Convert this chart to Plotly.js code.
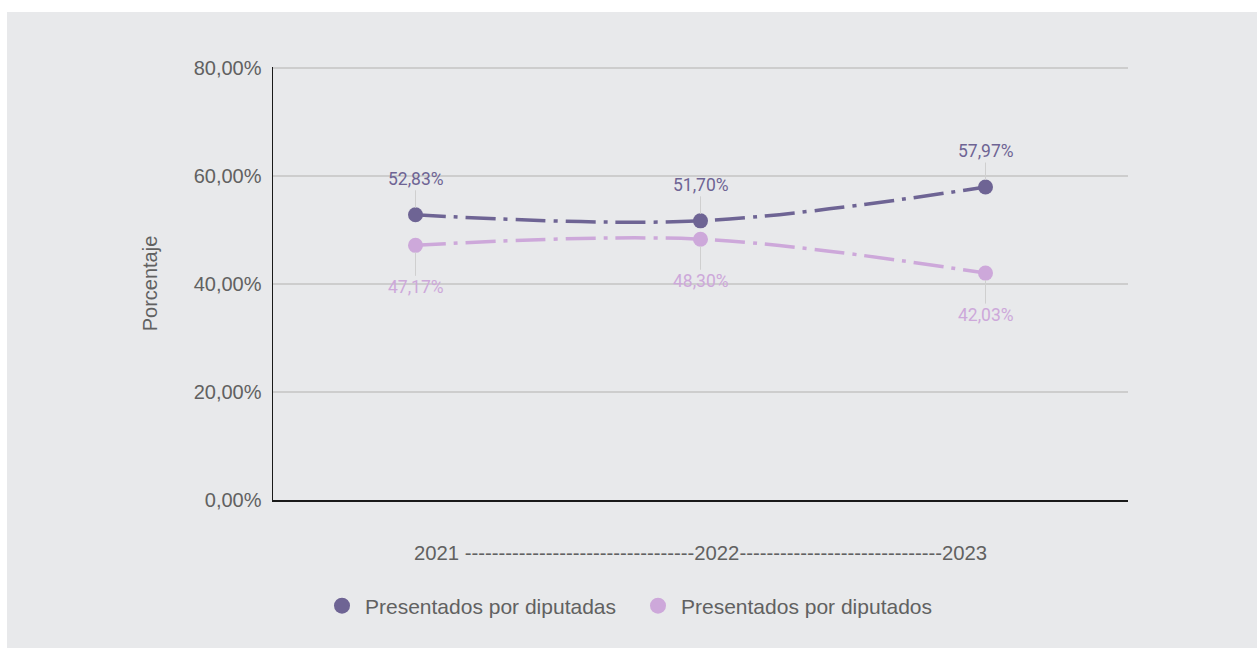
<!DOCTYPE html>
<html>
<head>
<meta charset="utf-8">
<script src="https://cdn.plot.ly/plotly-3.0.1.min.js"></script>
<style>
html,body{margin:0;padding:0;background:#ffffff;}
#chart{position:absolute;left:7px;top:12px;width:1250px;height:636px;}
</style>
</head>
<body>
<div id="chart"></div>
<script>
var years = ["2021", "2022", "2023"];
var diputadas = [52.83, 51.70, 57.97];
var diputados = [47.17, 48.30, 42.03];
var labelsDiputadas = ["52,83%", "51,70%", "57,97%"];
var labelsDiputados = ["47,17%", "48,30%", "42,03%"];
var seriesNames = ["Presentados por diputadas", "Presentados por diputados"];
var yTickVals = [0, 20, 40, 60, 80];
var yTickText = ["0,00%", "20,00%", "40,00%", "60,00%", "80,00%"];
var xTitle = "2021 ----------------------------------2022------------------------------2023";
var yTitle = "Porcentaje";

var cDark = "#6e6494";
var cLight = "#cda8da";
var dashStyle = "30px,8px,4px,8px";

var traces = [
  {x: years, y: diputadas, type: "scatter", mode: "lines+markers", showlegend: false,
   line: {color: cDark, width: 3.5, dash: dashStyle, shape: "spline"},
   marker: {color: cDark, size: 15}, hoverinfo: "skip"},
  {x: years, y: diputados, type: "scatter", mode: "lines+markers", showlegend: false,
   line: {color: cLight, width: 3.5, dash: dashStyle, shape: "spline"},
   marker: {color: cLight, size: 15}, hoverinfo: "skip"},
  {x: [null], y: [null], type: "scatter", mode: "markers", name: seriesNames[0],
   marker: {color: cDark, size: 18}},
  {x: [null], y: [null], type: "scatter", mode: "markers", name: seriesNames[1],
   marker: {color: cLight, size: 18}}
];

var annotations = [];
for (var i = 0; i < years.length; i++) {
  annotations.push({x: i, y: diputadas[i], xref: "x", yref: "y", text: labelsDiputadas[i],
    showarrow: true, arrowhead: 0, arrowwidth: 1, arrowcolor: "#cfcfcf", ax: 0, ay: -36, standoff: 7,
    font: {family: "Roboto", size: 17.5, color: cDark}});
  annotations.push({x: i, y: diputados[i], xref: "x", yref: "y", text: labelsDiputados[i],
    showarrow: true, arrowhead: 0, arrowwidth: 1, arrowcolor: "#cfcfcf", ax: 0, ay: 42, standoff: 7,
    font: {family: "Roboto", size: 17.5, color: cLight}});
}

var layout = {
  width: 1250, height: 636,
  paper_bgcolor: "#e8e9eb", plot_bgcolor: "#e8e9eb",
  margin: {l: 266, r: 129, t: 55, b: 148},
  font: {family: "Liberation Sans, Arial, sans-serif", size: 20, color: "#616161"},
  xaxis: {
    type: "category", range: [-0.5, 2.5], showticklabels: false, ticks: "",
    showgrid: false, zeroline: false, showline: true, linecolor: "#1a1a1a", linewidth: 1.5,
    title: {text: xTitle, standoff: 45, font: {size: 20.3, color: "#616161"}}
  },
  yaxis: {
    range: [0, 80.2], tickmode: "array", tickvals: yTickVals, ticktext: yTickText,
    showgrid: true, gridcolor: "#cdcdcd", gridwidth: 1.2, zeroline: false,
    showline: true, linecolor: "#1a1a1a", linewidth: 1.5, ticks: "", ticklabelstandoff: 6,
    tickfont: {size: 20, color: "#616161"},
    title: {text: yTitle, standoff: 30, font: {size: 20, color: "#616161"}}
  },
  showlegend: true,
  legend: {orientation: "h", xref: "container", yref: "container", x: 0.5024, xanchor: "center",
    y: 0.066, yanchor: "middle", font: {size: 21, color: "#616161"}, bgcolor: "rgba(0,0,0,0)",
    entrywidth: 265, entrywidthmode: "pixels", itemwidth: 36},
  annotations: annotations
};

Plotly.newPlot("chart", traces, layout, {displayModeBar: false, staticPlot: true}).catch(function (e) {
  document.body.insertAdjacentHTML("beforeend", "<pre>" + e + "</pre>");
});
</script>
</body>
</html>
